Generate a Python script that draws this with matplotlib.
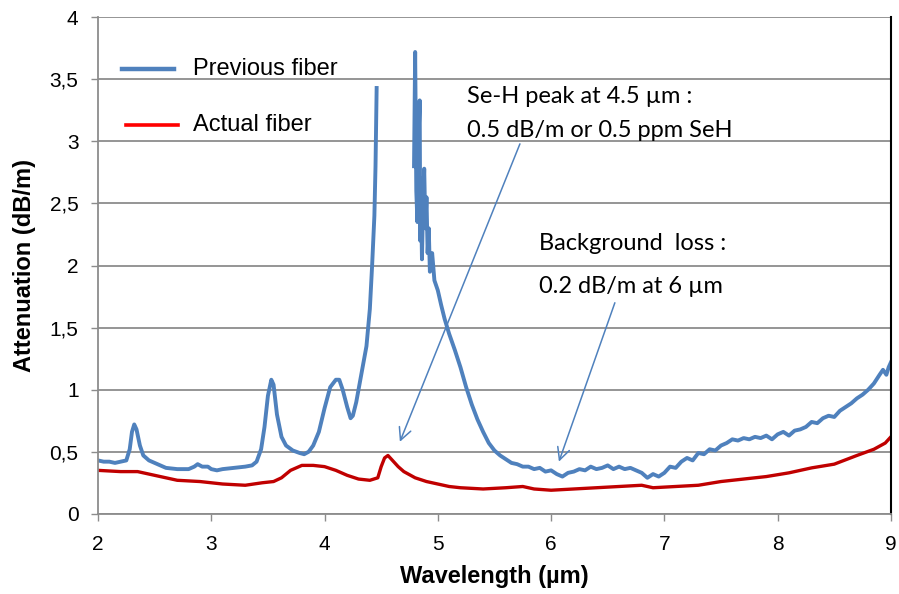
import numpy as np
import matplotlib
matplotlib.use('Agg')
import matplotlib.pyplot as plt
from matplotlib.ticker import FuncFormatter

# Previous fiber (blue) - gap where the detector saturates between ~4.46 and 4.79 um
prev_x = [2.00, 2.05, 2.10, 2.15, 2.20, 2.25, 2.28, 2.30, 2.32, 2.34, 2.37, 2.40, 2.45, 2.50,
          2.55, 2.60, 2.70, 2.80, 2.85, 2.88, 2.92, 2.97, 3.00, 3.05, 3.10, 3.20, 3.30, 3.36,
          3.40, 3.44, 3.47, 3.50, 3.53, 3.55, 3.58, 3.62, 3.66, 3.72, 3.78, 3.82, 3.86, 3.90,
          3.95, 4.00, 4.05, 4.10, 4.13, 4.16, 4.20, 4.23, 4.25, 4.28, 4.31, 4.34, 4.37, 4.40,
          4.42, 4.44, 4.45, 4.46, 4.47,
          4.79, 4.80, 4.81, 4.82, 4.83, 4.84, 4.845, 4.85, 4.86, 4.87, 4.88, 4.89, 4.90, 4.91,
          4.92, 4.93, 4.95, 4.97, 5.00, 5.03, 5.06, 5.10, 5.15, 5.20, 5.25, 5.30, 5.35, 5.40,
          5.45, 5.50, 5.55, 5.60, 5.65, 5.70, 5.75, 5.80, 5.85, 5.90, 5.95, 6.00, 6.05, 6.10,
          6.15, 6.20, 6.25, 6.30, 6.35, 6.40, 6.45, 6.50, 6.55, 6.60, 6.65, 6.70, 6.75, 6.80,
          6.85, 6.90, 6.95, 7.00, 7.05, 7.10, 7.15, 7.20, 7.25, 7.30, 7.35, 7.40, 7.45, 7.50,
          7.55, 7.60, 7.65, 7.70, 7.75, 7.80, 7.85, 7.90, 7.95, 8.00, 8.05, 8.10, 8.15, 8.20,
          8.25, 8.30, 8.35, 8.40, 8.45, 8.50, 8.55, 8.60, 8.65, 8.70, 8.75, 8.80, 8.85, 8.90,
          8.93, 8.96, 8.98, 9.00]
prev_y = [0.43, 0.42, 0.42, 0.41, 0.42, 0.43, 0.52, 0.66, 0.72, 0.68, 0.55, 0.47, 0.43, 0.41,
          0.39, 0.37, 0.36, 0.36, 0.38, 0.40, 0.38, 0.38, 0.36, 0.35, 0.36, 0.37, 0.38, 0.39,
          0.42, 0.52, 0.70, 0.95, 1.08, 1.04, 0.80, 0.62, 0.55, 0.51, 0.49, 0.48, 0.50, 0.55,
          0.66, 0.85, 1.02, 1.08, 1.08, 1.00, 0.86, 0.77, 0.79, 0.90, 1.05, 1.20, 1.35, 1.65,
          2.00, 2.40, 2.80, 3.43, np.nan,
          2.80, 3.72, 2.60, 2.35, 3.00, 3.33, 2.20, 2.70, 2.05, 2.50, 2.78, 2.30, 2.55, 2.10,
          2.30, 1.95, 2.10, 1.88, 1.80, 1.68, 1.57, 1.45, 1.32, 1.18, 1.02, 0.88, 0.76, 0.66,
          0.57, 0.51, 0.47, 0.44, 0.41, 0.40, 0.38, 0.38, 0.36, 0.37, 0.34, 0.35, 0.32, 0.30,
          0.33, 0.34, 0.36, 0.35, 0.38, 0.36, 0.37, 0.39, 0.36, 0.38, 0.36, 0.37, 0.35, 0.33,
          0.29, 0.32, 0.30, 0.33, 0.38, 0.37, 0.42, 0.45, 0.43, 0.49, 0.48, 0.52, 0.51, 0.55,
          0.57, 0.60, 0.59, 0.61, 0.60, 0.62, 0.61, 0.63, 0.60, 0.64, 0.66, 0.63, 0.67, 0.68,
          0.70, 0.74, 0.73, 0.77, 0.79, 0.78, 0.83, 0.86, 0.89, 0.93, 0.96, 1.00, 1.05, 1.12,
          1.16, 1.12, 1.18, 1.22]

# Actual fiber (red)
act_x = [2.00, 2.20, 2.35, 2.50, 2.70, 2.90, 3.10, 3.30, 3.45, 3.55, 3.62, 3.70, 3.80, 3.90,
         4.00, 4.10, 4.20, 4.30, 4.40, 4.47, 4.50, 4.53, 4.56, 4.60, 4.65, 4.70, 4.80, 4.90,
         5.00, 5.10, 5.20, 5.40, 5.60, 5.75, 5.85, 6.00, 6.20, 6.40, 6.60, 6.80, 6.90, 7.10,
         7.30, 7.50, 7.70, 7.90, 8.10, 8.30, 8.50, 8.70, 8.85, 8.95, 9.00]
act_y = [0.35, 0.34, 0.34, 0.31, 0.27, 0.26, 0.24, 0.23, 0.25, 0.26, 0.29, 0.35, 0.39, 0.39,
         0.38, 0.35, 0.31, 0.28, 0.27, 0.29, 0.38, 0.45, 0.47, 0.43, 0.38, 0.34, 0.29, 0.26,
         0.24, 0.22, 0.21, 0.20, 0.21, 0.22, 0.20, 0.19, 0.20, 0.21, 0.22, 0.23, 0.21, 0.22,
         0.23, 0.26, 0.28, 0.30, 0.33, 0.37, 0.40, 0.47, 0.52, 0.57, 0.62]

x_ticks = [2, 3, 4, 5, 6, 7, 8, 9]
y_ticks = [0, 0.5, 1, 1.5, 2, 2.5, 3, 3.5, 4]
labels = ['Previous fiber', 'Actual fiber']

blue = '#4F81BD'
red = '#C00000'
grid_c = '#8C8C8C'

plt.rcParams['font.family'] = ['Liberation Sans', 'DejaVu Sans']

fig = plt.figure(figsize=(8.99, 5.94), dpi=100)
ax = fig.add_axes([0.109, 0.135, 0.882, 0.836])

ax.plot(prev_x, prev_y, color=blue, lw=2.8, solid_joinstyle='round')
ax.plot(act_x, act_y, color=red, lw=2.4, solid_joinstyle='round')

ax.set_xlim(2, 9)
ax.set_ylim(0, 4)
ax.set_xticks(x_ticks)
ax.set_yticks(y_ticks)
ax.yaxis.set_major_formatter(FuncFormatter(lambda v, p: ('%g' % v).replace('.', ',')))
ax.yaxis.grid(True, color=grid_c, lw=1.3)
ax.set_axisbelow(True)
for s in ['left', 'bottom']:
    ax.spines[s].set_color(grid_c)
    ax.spines[s].set_linewidth(1.3)
ax.spines['top'].set_visible(False)
ax.spines['right'].set_color('black')
ax.spines['right'].set_linewidth(1.5)
ax.tick_params(axis='both', colors=grid_c, labelcolor='black', labelsize=15, length=5, width=1)
ax.tick_params(axis='x', pad=10)
ax.tick_params(axis='y', pad=9)

ax.set_xlabel('Wavelength (µm)', fontsize=17, fontweight='bold', labelpad=8)
ax.set_ylabel('Attenuation (dB/m)', fontsize=17, fontweight='bold', labelpad=10)

# legend drawn by hand (no frame, handles offset like the original)
tr = ax.transAxes
ax.plot([0.030, 0.096], [0.895, 0.895], color=blue, lw=3.2, transform=tr, clip_on=False)
ax.plot([0.035, 0.101], [0.783, 0.783], color='#FF0000', lw=2.6, transform=tr, clip_on=False)
ax.text(0.120, 0.895, labels[0], transform=tr, fontsize=17, va='center', ha='left')
ax.text(0.120, 0.783, labels[1], transform=tr, fontsize=17, va='center', ha='left')

ann_font = dict(family=['Lato', 'DejaVu Sans'], fontsize=17, va='center', ha='left')
ax.text(5.257, 3.36, 'Se-H peak at 4.5 µm :', **ann_font)
ax.text(5.257, 3.09, '0.5 dB/m or 0.5 ppm SeH', **ann_font)
ax.text(5.89, 2.18, 'Background  loss :', **ann_font)
ax.text(5.89, 1.83, '0.2 dB/m at 6 µm', **ann_font)

arrow = dict(arrowstyle='->', color=blue, lw=1.1, mutation_scale=22, shrinkA=0, shrinkB=0)
ax.annotate('', xy=(4.665, 0.58), xytext=(5.725, 2.98), arrowprops=arrow)
ax.annotate('', xy=(6.069, 0.42), xytext=(6.563, 1.70), arrowprops=arrow)

fig.savefig('out.png', dpi=100)
